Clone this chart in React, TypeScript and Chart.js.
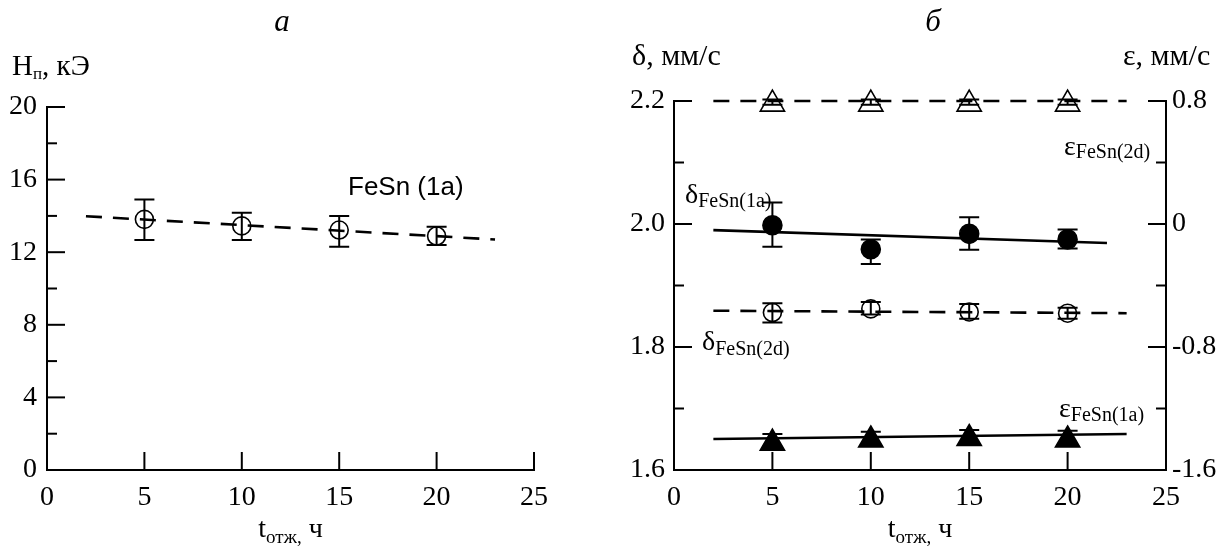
import React, { useEffect, useRef } from "react";
import { Chart, registerables } from "chart.js";
Chart.register(...registerables);

// ---------- data ----------
const annealHours = [5, 10, 15, 20];

// panel а: hyperfine field H_п, kOe
const hnValues = [13.81, 13.45, 13.22, 12.89];
const hnLow = [12.67, 12.67, 12.3, 12.4];
const hnHigh = [14.91, 14.18, 13.99, 13.4];
const hnFitX = [2, 23];
const hnFitY = [13.98, 12.7];

// panel б: isomer shift δ (left axis), quadrupole splitting ε (right axis), mm/s
const delta1a = [1.998, 1.959, 1.984, 1.975];
const delta1aLow = [1.963, 1.935, 1.958, 1.96];
const delta1aHigh = [2.035, 1.975, 2.011, 1.991];
const delta1aFitX = [2, 22];
const delta1aFitY = [1.99, 1.969];

const delta2d = [1.856, 1.862, 1.857, 1.855];
const delta2dLow = [1.84, 1.853, 1.846, 1.846];
const delta2dHigh = [1.871, 1.873, 1.87, 1.864];
const delta2dFitX = [2, 23];
const delta2dFitY = [1.859, 1.855];

const eps2d = [0.78, 0.78, 0.78, 0.78];
const eps2dLow = [0.775, 0.775, 0.775, 0.775];
const eps2dHigh = [0.81, 0.81, 0.81, 0.81];
const eps2dFitX = [2, 23];
const eps2dFitY = [0.8, 0.8];

const eps1a = [-1.425, -1.405, -1.395, -1.405];
const eps1aLow = [-1.46, -1.44, -1.43, -1.44];
const eps1aHigh = [-1.366, -1.351, -1.34, -1.345];
const eps1aFitX = [2, 23];
const eps1aFitY = [-1.398, -1.366];

const xTickStep = 5;
const hnTickStep = 4;
const deltaTickStep = 0.2;
const epsTickStep = 0.8;

// ---------- helpers ----------
const SERIF = '"Liberation Serif", "Times New Roman", serif';
const SANS = '"Liberation Sans", Arial, sans-serif';
const INK = "#000";

type Part = { t: string; size: number; dy?: number; italic?: boolean; family?: string };
type Ann = { parts: Part[]; x: number; y: number; align?: "left" | "center" | "chart-center" };

function fontOf(p: Part) {
  return `${p.italic ? "italic " : ""}${p.size}px ${p.family || SERIF}`;
}

function drawRich(ctx: CanvasRenderingContext2D, a: Ann, chart: any) {
  const widths = a.parts.map((p) => {
    ctx.font = fontOf(p);
    return ctx.measureText(p.t).width;
  });
  const total = widths.reduce((s, w) => s + w, 0);
  let x = a.x;
  if (a.align === "center") x = a.x - total / 2;
  if (a.align === "chart-center") x = (chart.chartArea.left + chart.chartArea.right) / 2 - total / 2;
  ctx.textAlign = "left";
  ctx.textBaseline = "alphabetic";
  ctx.fillStyle = INK;
  a.parts.forEach((p, i) => {
    ctx.font = fontOf(p);
    ctx.fillText(p.t, x, a.y + (p.dy || 0));
    x += widths[i];
  });
}

const pts = (xs: number[], ys: number[]) => xs.map((x, i) => ({ x, y: ys[i] }));

type ErrSet = { xs: number[]; low: number[]; high: number[]; axis: string };
type TickSpec = { id: string; edge: "left" | "right" | "bottom" };

function makeOverlay(errs: ErrSet[], ticks: TickSpec[], anns: Ann[]) {
  return {
    id: "overlay",
    afterDatasetsDraw(chart: any) {
      const ctx: CanvasRenderingContext2D = chart.ctx;
      const xs = chart.scales.x;
      ctx.save();
      // error bars
      ctx.strokeStyle = INK;
      ctx.lineWidth = 2;
      errs.forEach((e) => {
        const ys = chart.scales[e.axis];
        e.xs.forEach((xv, i) => {
          const px = xs.getPixelForValue(xv);
          const lo = ys.getPixelForValue(e.low[i]);
          const hi = ys.getPixelForValue(e.high[i]);
          ctx.beginPath();
          ctx.moveTo(px, lo);
          ctx.lineTo(px, hi);
          ctx.moveTo(px - 10, lo);
          ctx.lineTo(px + 10, lo);
          ctx.moveTo(px - 10, hi);
          ctx.lineTo(px + 10, hi);
          ctx.stroke();
        });
      });
      // inward tick marks (major at library ticks, minor halfway)
      const area = chart.chartArea;
      ctx.lineWidth = 2;
      ticks.forEach((t) => {
        const sc = chart.scales[t.id];
        const vals = sc.ticks.map((k: any) => k.value);
        const marks: { v: number; len: number }[] = [];
        vals.forEach((v: number, i: number) => {
          marks.push({ v, len: 18 });
          if (i < vals.length - 1) marks.push({ v: (v + vals[i + 1]) / 2, len: 10 });
        });
        marks.forEach((m) => {
          const p = sc.getPixelForValue(m.v);
          ctx.beginPath();
          if (t.edge === "left") {
            ctx.moveTo(area.left, p);
            ctx.lineTo(area.left + m.len, p);
          } else if (t.edge === "right") {
            ctx.moveTo(area.right, p);
            ctx.lineTo(area.right - m.len, p);
          } else {
            if (m.len < 18) return;
            ctx.moveTo(p, area.bottom);
            ctx.lineTo(p, area.bottom - m.len);
          }
          ctx.stroke();
        });
      });
      // texts
      anns.forEach((a) => drawRich(ctx, a, chart));
      ctx.restore();
    },
  };
}

const tickFont = { family: SERIF, size: 28 };

function markerSet(data: any[], yAxisID: string, style: string, radius: number, filled: boolean) {
  return {
    type: "scatter",
    data,
    yAxisID,
    pointStyle: style,
    pointRadius: radius,
    pointBorderWidth: 1.6,
    pointBorderColor: INK,
    pointBackgroundColor: filled ? INK : "rgba(0,0,0,0)",
    showLine: false,
    clip: false,
    order: 0,
  };
}

function fitSet(data: any[], yAxisID: string, dashed: boolean) {
  return {
    type: "line",
    data,
    yAxisID,
    borderColor: INK,
    borderWidth: 2.6,
    borderDash: dashed ? [16, 11] : [],
    pointRadius: 0,
    fill: false,
    tension: 0,
    clip: false,
    order: 1,
  };
}

function xScale() {
  return {
    type: "linear",
    position: "bottom",
    min: 0,
    max: 25,
    afterFit: (s: any) => {
      s.height = 80;
    },
    grid: { display: false, drawTicks: false },
    border: { display: true, color: INK, width: 2 },
    ticks: { stepSize: xTickStep, font: tickFont, color: INK, padding: 11, maxRotation: 0, autoSkip: false },
  };
}

// ---------- components ----------
function PanelA() {
  const ref = useRef<HTMLCanvasElement>(null);
  useEffect(() => {
    const anns: Ann[] = [
      { parts: [{ t: "а", size: 31, italic: true }], x: 282, y: 31, align: "center" },
      {
        parts: [
          { t: "H", size: 29 },
          { t: "п", size: 17, dy: 4 },
          { t: ", кЭ", size: 29 },
        ],
        x: 12,
        y: 75,
      },
      {
        parts: [
          { t: "t", size: 28 },
          { t: "отж,", size: 19, dy: 6 },
          { t: " ч", size: 28 },
        ],
        x: 0,
        y: 537,
        align: "chart-center",
      },
      { parts: [{ t: "FeSn (1a)", size: 26, family: SANS }], x: 348, y: 195 },
    ];
    const chart = new Chart(ref.current as HTMLCanvasElement, {
      data: {
        datasets: [
          markerSet(pts(annealHours, hnValues), "y", "circle", 9, false),
          fitSet(pts(hnFitX, hnFitY), "y", true),
        ] as any,
      },
      options: {
        responsive: false,
        animation: false,
        devicePixelRatio: 1,
        events: [],
        layout: { padding: { left: 0, top: 107, right: 66, bottom: 0 } },
        plugins: { legend: { display: false }, tooltip: { enabled: false } },
        scales: {
          x: xScale(),
          y: {
            type: "linear",
            position: "left",
            min: 0,
            max: 20,
            afterFit: (s: any) => {
              s.width = 47;
            },
            grid: { display: false, drawTicks: false },
            border: { display: true, color: INK, width: 2 },
            ticks: { stepSize: hnTickStep, font: tickFont, color: INK, padding: 10 },
          },
        } as any,
      },
      plugins: [
        makeOverlay(
          [{ xs: annealHours, low: hnLow, high: hnHigh, axis: "y" }],
          [
            { id: "y", edge: "left" },
            { id: "x", edge: "bottom" },
          ],
          anns
        ),
      ],
    } as any);
    return () => chart.destroy();
  }, []);
  return <canvas ref={ref} width={600} height={550} style={{ position: "absolute", left: 0, top: 0, width: 600, height: 550 }} />;
}

function PanelB() {
  const ref = useRef<HTMLCanvasElement>(null);
  useEffect(() => {
    const anns: Ann[] = [
      { parts: [{ t: "б", size: 31, italic: true }], x: 333, y: 31, align: "center" },
      { parts: [{ t: "δ, мм/с", size: 30 }], x: 32, y: 65 },
      { parts: [{ t: "ε, мм/с", size: 30 }], x: 523, y: 65 },
      {
        parts: [
          { t: "t", size: 28 },
          { t: "отж,", size: 19, dy: 6 },
          { t: " ч", size: 28 },
        ],
        x: 0,
        y: 537,
        align: "chart-center",
      },
      {
        parts: [
          { t: "δ", size: 28 },
          { t: "FeSn(1a)", size: 20, dy: 4 },
        ],
        x: 85,
        y: 203,
      },
      {
        parts: [
          { t: "δ", size: 28 },
          { t: "FeSn(2d)", size: 20, dy: 5 },
        ],
        x: 102,
        y: 350,
      },
      {
        parts: [
          { t: "ε", size: 28 },
          { t: "FeSn(2d)", size: 20, dy: 3 },
        ],
        x: 464,
        y: 155,
      },
      {
        parts: [
          { t: "ε", size: 28 },
          { t: "FeSn(1a)", size: 20, dy: 4 },
        ],
        x: 459,
        y: 417,
      },
    ];
    const chart = new Chart(ref.current as HTMLCanvasElement, {
      data: {
        datasets: [
          markerSet(pts(annealHours, delta1a), "y", "circle", 9.5, true),
          markerSet(pts(annealHours, delta2d), "y", "circle", 9, false),
          markerSet(pts(annealHours, eps2d), "y2", "triangle", 14, false),
          markerSet(pts(annealHours, eps1a), "y2", "triangle", 14, true),
          fitSet(pts(delta1aFitX, delta1aFitY), "y", false),
          fitSet(pts(delta2dFitX, delta2dFitY), "y", true),
          fitSet(pts(eps2dFitX, eps2dFitY), "y2", true),
          fitSet(pts(eps1aFitX, eps1aFitY), "y2", false),
        ] as any,
      },
      options: {
        responsive: false,
        animation: false,
        devicePixelRatio: 1,
        events: [],
        layout: { padding: { left: 0, top: 101, right: 0, bottom: 0 } },
        plugins: { legend: { display: false }, tooltip: { enabled: false } },
        scales: {
          x: xScale(),
          y: {
            type: "linear",
            position: "left",
            min: 1.6,
            max: 2.2,
            afterFit: (s: any) => {
              s.width = 74;
            },
            grid: { display: false, drawTicks: false },
            border: { display: true, color: INK, width: 2 },
            ticks: {
              stepSize: deltaTickStep,
              font: tickFont,
              color: INK,
              padding: 9,
              callback: (v: any) => Number(v).toFixed(1),
            },
          },
          y2: {
            type: "linear",
            position: "right",
            min: -1.6,
            max: 0.8,
            afterFit: (s: any) => {
              s.width = 60;
            },
            grid: { display: false, drawTicks: false },
            border: { display: true, color: INK, width: 2 },
            ticks: {
              stepSize: epsTickStep,
              font: tickFont,
              color: INK,
              padding: 6,
              callback: (v: any) => (Math.abs(Number(v)) < 1e-9 ? "0" : Number(v).toFixed(1)),
            },
          },
        } as any,
      },
      plugins: [
        makeOverlay(
          [
            { xs: annealHours, low: delta1aLow, high: delta1aHigh, axis: "y" },
            { xs: annealHours, low: delta2dLow, high: delta2dHigh, axis: "y" },
            { xs: annealHours, low: eps2dLow, high: eps2dHigh, axis: "y2" },
            { xs: annealHours, low: eps1aLow, high: eps1aHigh, axis: "y2" },
          ],
          [
            { id: "y", edge: "left" },
            { id: "y2", edge: "right" },
            { id: "x", edge: "bottom" },
          ],
          anns
        ),
      ],
    } as any);
    return () => chart.destroy();
  }, []);
  return <canvas ref={ref} width={626} height={550} style={{ position: "absolute", left: 600, top: 0, width: 626, height: 550 }} />;
}

export default function App() {
  return (
    <div style={{ position: "fixed", left: 0, top: 0, width: 1226, height: 550, background: "#fff", overflow: "hidden" }}>
      <PanelA />
      <PanelB />
    </div>
  );
}
